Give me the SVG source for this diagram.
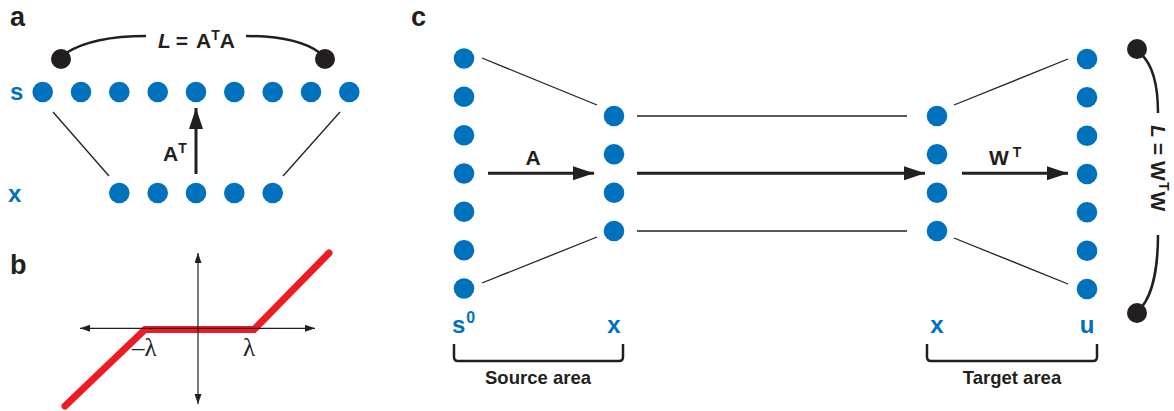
<svg xmlns="http://www.w3.org/2000/svg" width="1174" height="411" viewBox="0 0 1174 411">
<style>
.bg{fill:#ffffff}
.dot{fill:#0071BC}
.bdot{fill:#231F20}
.thin{stroke:#231F20;stroke-width:1.3;fill:none}
.thick{stroke:#231F20;stroke-width:3;fill:none}
.curve{stroke:#231F20;stroke-width:2.5;fill:none}
.axis{stroke:#231F20;stroke-width:1.2;fill:none}
.panel{font-family:"Liberation Sans",Arial,sans-serif;font-weight:bold;font-size:27px;fill:#231F20}
.lbl{font-family:"Liberation Sans",Arial,sans-serif;font-weight:bold;font-size:24px;fill:#0071BC}
.eq{font-family:"Liberation Sans",Arial,sans-serif;font-weight:bold;font-size:21px;fill:#231F20}
.cap{font-family:"Liberation Sans",Arial,sans-serif;font-weight:bold;font-size:18.5px;fill:#231F20}
.lam{font-family:"Liberation Serif","Times New Roman",serif;font-size:25px;fill:#231F20}
</style>
<defs>
<marker id="ah" markerUnits="userSpaceOnUse" markerWidth="24" markerHeight="16" refX="21" refY="7" orient="auto">
<path d="M0,0 L21,7 L0,14 Z" fill="#231F20"/>
</marker>
<marker id="sah" markerUnits="userSpaceOnUse" markerWidth="12" markerHeight="10" refX="10" refY="3.5" orient="auto">
<path d="M0,0 L10,3.5 L0,7 Z" fill="#231F20"/>
</marker>
</defs>
<rect class="bg" x="0" y="0" width="1174" height="411"/>

<!-- panel labels -->
<text class="panel" x="10" y="26">a</text>
<text class="panel" x="10" y="274">b</text>
<text class="panel" x="411" y="26">c</text>

<!-- ===== Panel a ===== -->
<g id="connectors-a">
<line class="thin" x1="53" y1="112" x2="109" y2="176"/>
<line class="thin" x1="340" y1="112" x2="283" y2="176"/>
<line class="thick" x1="196" y1="174" x2="196" y2="108" marker-end="url(#ah)"/>
<path class="curve" d="M66,53 C85,41 112,36 146,36"/>
<path class="curve" d="M246,36 C280,36 304,41 320,53"/>
</g>
<g id="a-label-s"><text class="lbl" x="10" y="100">s</text></g>
<g id="a-label-x"><text class="lbl" x="8" y="202">x</text></g>
<g id="a-s-row">
<circle class="dot" cx="42.7" cy="92" r="10.3"/>
<circle class="dot" cx="81" cy="92" r="10.3"/>
<circle class="dot" cx="119.3" cy="92" r="10.3"/>
<circle class="dot" cx="157.7" cy="92" r="10.3"/>
<circle class="dot" cx="196" cy="92" r="10.3"/>
<circle class="dot" cx="234.3" cy="92" r="10.3"/>
<circle class="dot" cx="272.7" cy="92" r="10.3"/>
<circle class="dot" cx="311" cy="92" r="10.3"/>
<circle class="dot" cx="349.3" cy="92" r="10.3"/>
</g>
<g id="a-x-row">
<circle class="dot" cx="119.3" cy="193" r="10.3"/>
<circle class="dot" cx="157.7" cy="193" r="10.3"/>
<circle class="dot" cx="196" cy="193" r="10.3"/>
<circle class="dot" cx="234.3" cy="193" r="10.3"/>
<circle class="dot" cx="272.7" cy="193" r="10.3"/>
</g>
<g id="a-L-left"><circle class="bdot" cx="61" cy="59" r="10"/></g>
<g id="a-L-right"><circle class="bdot" cx="325" cy="59" r="10"/></g>
<g id="a-L-text"><text class="eq" x="158" y="48"><tspan font-style="italic">L</tspan><tspan dx="5">=</tspan><tspan dx="8">A</tspan><tspan font-size="14" dy="-8">T</tspan><tspan dy="8">A</tspan></text></g>
<g id="a-AT-text"><text class="eq" x="163" y="161">A<tspan font-size="14" dy="-8">T</tspan></text></g>

<!-- ===== Panel b ===== -->
<g id="b-plot">
<polyline points="65,406 145,329.5 254,329.5 329,253" fill="none" stroke="#ED1C24" stroke-width="7" stroke-linecap="round" stroke-linejoin="miter"/>
<line class="axis" x1="198" y1="328.3" x2="315" y2="328.3" marker-end="url(#sah)"/>
<line class="axis" x1="198" y1="328.3" x2="80" y2="328.3" marker-end="url(#sah)"/>
<line class="axis" x1="198" y1="328.3" x2="198" y2="253" marker-end="url(#sah)"/>
<line class="axis" x1="198" y1="328.3" x2="198" y2="404" marker-end="url(#sah)"/>
<text class="lam" x="132" y="356">–λ</text>
<text class="lam" x="243" y="356">λ</text>
</g>

<!-- ===== Panel c ===== -->
<g id="connectors-c">
<line class="thin" x1="482" y1="58" x2="597" y2="105"/>
<line class="thin" x1="482" y1="283" x2="597" y2="237"/>
<line class="thin" x1="637" y1="116" x2="907" y2="116"/>
<line class="thin" x1="637" y1="231" x2="907" y2="231"/>
<line class="thick" x1="637" y1="173.3" x2="925" y2="173.3" marker-end="url(#ah)"/>
<line class="thick" x1="488" y1="173.3" x2="594" y2="173.3" marker-end="url(#ah)"/>
<line class="thick" x1="962" y1="173.3" x2="1068" y2="173.3" marker-end="url(#ah)"/>
<line class="thin" x1="954" y1="105" x2="1068" y2="59"/>
<line class="thin" x1="954" y1="238" x2="1068" y2="284"/>
<path class="curve" d="M1141,54 C1154,66 1158,90 1158,113"/>
<path class="curve" d="M1158,235 C1158,262 1154,293 1141,308"/>
</g>
<g id="c-s0">
<circle class="dot" cx="464" cy="58.5" r="10.3"/>
<circle class="dot" cx="464" cy="96.8" r="10.3"/>
<circle class="dot" cx="464" cy="135.2" r="10.3"/>
<circle class="dot" cx="464" cy="173.5" r="10.3"/>
<circle class="dot" cx="464" cy="211.8" r="10.3"/>
<circle class="dot" cx="464" cy="250.2" r="10.3"/>
<circle class="dot" cx="464" cy="288.5" r="10.3"/>
<text class="lbl" x="452" y="333">s<tspan font-size="16" dy="-10" dx="1">0</tspan></text>
</g>
<g id="c-x-source">
<circle class="dot" cx="614" cy="116" r="10.3"/>
<circle class="dot" cx="614" cy="154.3" r="10.3"/>
<circle class="dot" cx="614" cy="192.7" r="10.3"/>
<circle class="dot" cx="614" cy="231" r="10.3"/>
<text class="lbl" x="614" y="333" text-anchor="middle">x</text>
</g>
<g id="c-x-target">
<circle class="dot" cx="937" cy="116" r="10.3"/>
<circle class="dot" cx="937" cy="154.3" r="10.3"/>
<circle class="dot" cx="937" cy="192.7" r="10.3"/>
<circle class="dot" cx="937" cy="231" r="10.3"/>
<text class="lbl" x="937" y="333" text-anchor="middle">x</text>
</g>
<g id="c-u">
<circle class="dot" cx="1087" cy="59" r="10.3"/>
<circle class="dot" cx="1087" cy="97.3" r="10.3"/>
<circle class="dot" cx="1087" cy="135.7" r="10.3"/>
<circle class="dot" cx="1087" cy="174" r="10.3"/>
<circle class="dot" cx="1087" cy="212.3" r="10.3"/>
<circle class="dot" cx="1087" cy="250.7" r="10.3"/>
<circle class="dot" cx="1087" cy="289" r="10.3"/>
<text class="lbl" x="1087" y="333" text-anchor="middle">u</text>
</g>
<g id="c-L-top"><circle class="bdot" cx="1137" cy="49" r="10"/></g>
<g id="c-L-bottom"><circle class="bdot" cx="1137" cy="313" r="10"/></g>
<g id="c-L-text"><text class="eq" transform="translate(1151,125) rotate(90)"><tspan font-style="italic">L</tspan><tspan dx="5">=</tspan><tspan dx="6">W</tspan><tspan font-size="14" dy="-8" dx="1">T</tspan><tspan dy="8" dx="1">W</tspan></text></g>
<g id="c-A-text"><text class="eq" x="533" y="165" text-anchor="middle">A</text></g>
<g id="c-WT-text"><text class="eq" x="989" y="165">W<tspan font-size="14" dy="-8" dx="4">T</tspan></text></g>
<g id="c-source-area">
<path class="curve" d="M454,344 V357 Q454,361 458,361 H619 Q623,361 623,357 V344"/>
<text class="cap" x="538" y="384" text-anchor="middle">Source area</text>
</g>
<g id="c-target-area">
<path class="curve" d="M927,344 V357 Q927,361 931,361 H1093 Q1097,361 1097,357 V344"/>
<text class="cap" x="1012" y="384" text-anchor="middle">Target area</text>
</g>
</svg>
